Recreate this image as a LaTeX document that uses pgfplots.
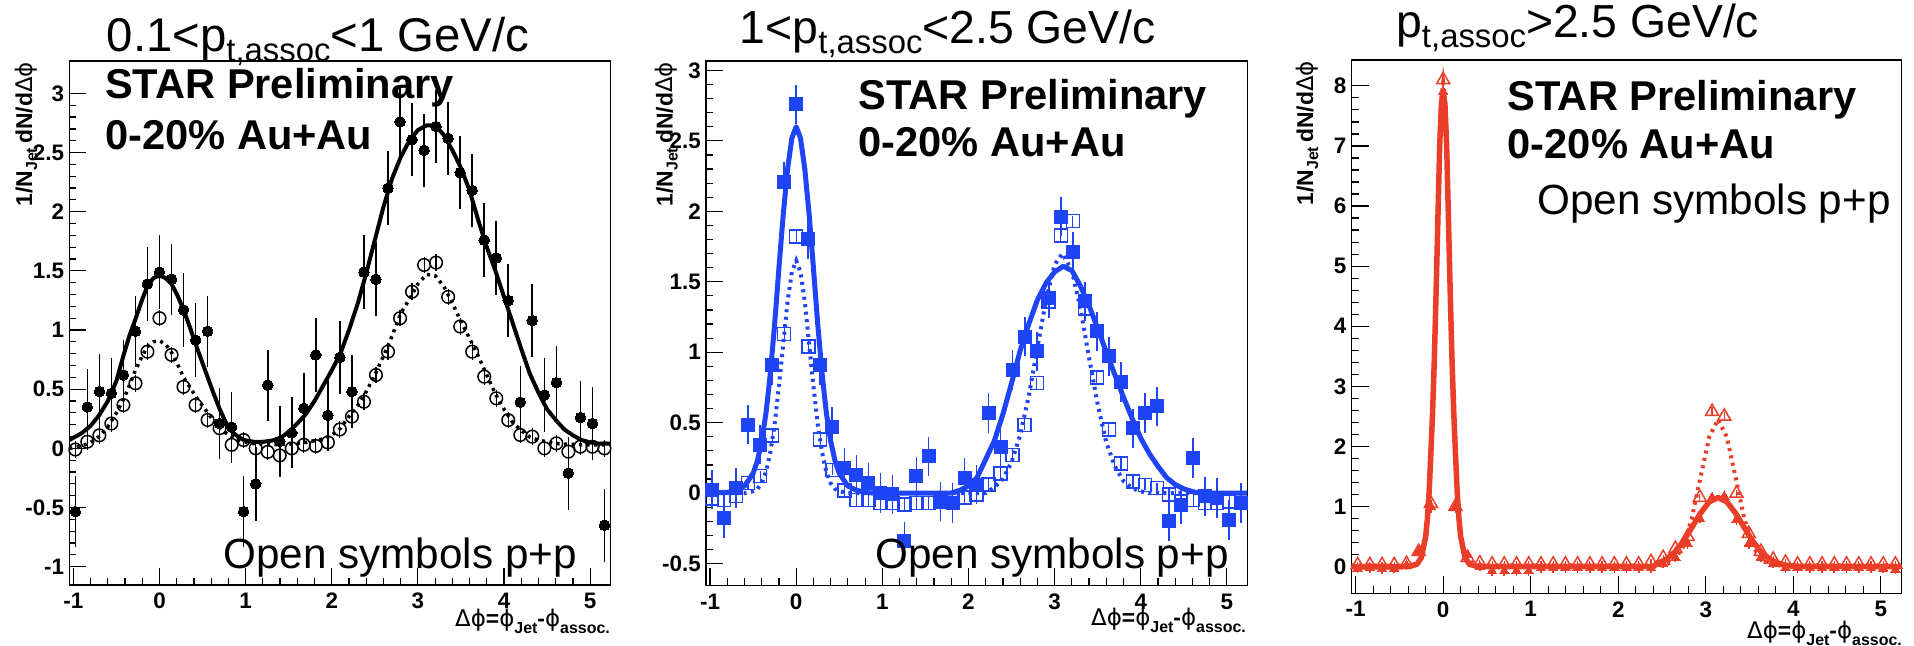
\documentclass[border=0pt]{standalone}
\usepackage{fontspec}
\setmainfont{Liberation Sans}
\newfontfamily\greekfont{DejaVu Sans}
\usepackage{pgfplots}
\usepackage{pgfplotstable}
\pgfplotsset{compat=1.18}

\definecolor{rootblue}{RGB}{30,68,245}
\definecolor{rootred}{RGB}{234,62,40}

% Azimuthal correlation per trigger jet, 45 bins over [-pi/3, 5pi/3]
% columns: bin centre, Au+Au value, Au+Au error, p+p value, p+p error
\pgfplotstableread{
x      aa     aae   pp     ppe
-0.977 -0.535 0.30 -0.01   0.07
-0.838  0.35  0.32  0.056  0.07
-0.698  0.48  0.32  0.11   0.07
-0.559  0.465 0.30  0.21   0.07
-0.419  0.62  0.30  0.366  0.07
-0.279  0.99  0.30  0.55   0.07
-0.140  1.39  0.31  0.817  0.07
 0.000  1.49  0.31  1.10   0.07
 0.140  1.43  0.30  0.79   0.07
 0.279  1.17  0.31  0.52   0.07
 0.419  0.915 0.31  0.366  0.07
 0.559  0.99  0.30  0.24   0.07
 0.698  0.21  0.30  0.17   0.07
 0.838  0.18  0.30  0.03   0.07
 0.977 -0.535 0.30  0.07   0.07
 1.117 -0.30  0.31  0.0    0.07
 1.257  0.535 0.30 -0.03   0.07
 1.396  0.06  0.30 -0.06   0.07
 1.536  0.13  0.30  0.0    0.07
 1.676  0.34  0.30  0.03   0.07
 1.815  0.79  0.31  0.02   0.07
 1.955  0.28  0.30  0.05   0.07
 2.094  0.77  0.31  0.16   0.07
 2.234  0.48  0.31  0.268  0.07
 2.374  1.49  0.31  0.394  0.07
 2.513  1.43  0.31  0.62   0.07
 2.653  2.20  0.31  0.817  0.07
 2.793  2.76  0.31  1.10   0.07
 2.932  2.61  0.31  1.324  0.07
 3.072  2.52  0.31  1.55   0.07
 3.211  2.72  0.31  1.57   0.07
 3.351  2.62  0.31  1.28   0.07
 3.491  2.33  0.31  1.03   0.07
 3.630  2.18  0.31  0.817  0.07
 3.770  1.76  0.31  0.606  0.07
 3.910  1.61  0.31  0.423  0.07
 4.049  1.25  0.31  0.239  0.07
 4.189  0.39  0.31  0.113  0.07
 4.328  1.08  0.31  0.099  0.07
 4.468  0.45  0.31  0.0    0.07
 4.608  0.555 0.31  0.042  0.07
 4.747 -0.21  0.31 -0.028  0.07
 4.887  0.26  0.31  0.014  0.07
 5.027  0.21  0.31  0.014  0.07
 5.166 -0.65  0.31  0.0    0.07
}\tabLow

\pgfplotstableread{
x      aa     aae   pp     ppe
-0.977  0.024 0.14 -0.04   0.04
-0.838 -0.18  0.14 -0.05   0.04
-0.698  0.035 0.14 -0.02   0.04
-0.559  0.485 0.14  0.07   0.04
-0.419  0.343 0.14  0.12   0.04
-0.279  0.91  0.14  0.41   0.04
-0.140  2.21  0.14  1.13   0.04
 0.000  2.76  0.14  1.82   0.04
 0.140  1.80  0.14  1.04   0.04
 0.279  0.91  0.14  0.38   0.04
 0.419  0.47  0.14  0.165  0.04
 0.559  0.18  0.14  0.02   0.04
 0.698  0.13  0.14 -0.05   0.04
 0.838  0.07  0.14 -0.05   0.04
 0.977  0.0   0.14 -0.07   0.04
 1.117 -0.01  0.14 -0.07   0.04
 1.257 -0.343 0.14 -0.08   0.04
 1.396  0.118 0.14 -0.07   0.04
 1.536  0.26  0.14 -0.07   0.04
 1.676 -0.06  0.14 -0.06   0.04
 1.815 -0.07  0.14 -0.05   0.04
 1.955  0.106 0.14 -0.03   0.04
 2.094  0.059 0.14 -0.01   0.04
 2.234  0.567 0.14  0.06   0.04
 2.374  0.33  0.14  0.14   0.04
 2.513  0.875 0.14  0.27   0.04
 2.653  1.11  0.14  0.485  0.04
 2.793  1.005 0.14  0.78   0.04
 2.932  1.383 0.14  1.36   0.04
 3.072  1.962 0.14  1.83   0.04
 3.211  1.714 0.14  1.93   0.04
 3.351  1.36  0.14  1.31   0.04
 3.491  1.147 0.14  0.82   0.04
 3.630  0.97  0.14  0.45   0.04
 3.770  0.79  0.14  0.21   0.04
 3.910  0.46  0.14  0.083  0.04
 4.049  0.567 0.14  0.059  0.04
 4.189  0.615 0.14  0.035  0.04
 4.328 -0.2   0.14 -0.01   0.04
 4.468 -0.083 0.14 -0.06   0.04
 4.608  0.248 0.14 -0.05   0.04
 4.747 -0.024 0.14 -0.07   0.04
 4.887 -0.035 0.14 -0.07   0.04
 5.027 -0.19  0.14 -0.06   0.04
 5.166 -0.07  0.14 -0.07   0.04
}\tabMid

\pgfplotstableread{
x      aa     aae   pp     ppe
-0.977 -0.03  0.08  0.03   0.05
-0.838 -0.02  0.08  0.03   0.05
-0.698 -0.04  0.08  0.03   0.05
-0.559 -0.03  0.08  0.03   0.05
-0.419  0.02  0.08  0.05   0.05
-0.279  0.25  0.08  0.25   0.05
-0.140  1.00  0.10  1.05   0.06
 0.000  7.90  0.15  8.10   0.10
 0.140  1.00  0.10  1.00   0.06
 0.279  0.20  0.08  0.15   0.05
 0.419  0.00  0.08  0.06   0.05
 0.559 -0.07  0.08  0.04   0.05
 0.698 -0.07  0.08  0.04   0.05
 0.838 -0.07  0.08  0.04   0.05
 0.977 -0.07  0.08  0.04   0.05
 1.117 -0.02  0.08  0.04   0.05
 1.257 -0.02  0.08  0.04   0.05
 1.396 -0.02  0.08  0.04   0.05
 1.536 -0.02  0.08  0.04   0.05
 1.676 -0.02  0.08  0.04   0.05
 1.815 -0.02  0.08  0.04   0.05
 1.955 -0.02  0.08  0.04   0.05
 2.094 -0.02  0.08  0.04   0.05
 2.234 -0.02  0.08  0.04   0.05
 2.374 -0.02  0.08  0.08   0.05
 2.513  0.05  0.08  0.15   0.05
 2.653  0.15  0.08  0.30   0.05
 2.793  0.38  0.08  0.50   0.05
 2.932  0.80  0.08  1.15   0.06
 3.072  1.15  0.08  2.58   0.08
 3.211  1.17  0.08  2.50   0.08
 3.351  0.78  0.08  1.22   0.06
 3.491  0.38  0.08  0.55   0.05
 3.630  0.15  0.08  0.25   0.05
 3.770  0.05  0.08  0.12   0.05
 3.910 -0.02  0.08  0.07   0.05
 4.049 -0.02  0.08  0.04   0.05
 4.189 -0.02  0.08  0.04   0.05
 4.328 -0.02  0.08  0.04   0.05
 4.468 -0.02  0.08  0.04   0.05
 4.608 -0.02  0.08  0.04   0.05
 4.747 -0.02  0.08  0.04   0.05
 4.887 -0.02  0.08  0.04   0.05
 5.027 -0.03  0.08  0.04   0.05
 5.166 -0.05  0.08  0.04   0.05
}\tabHigh

\pgfplotsset{
  rootframe/.style={
    scale only axis,
    anchor=south west,
    xmin=-1.047, xmax=5.236,
    axis line style={line width=1.4bp},
    tick align=inside,
    tick pos=left,
    major tick length=17bp,
    minor tick length=7bp,
    tick style={line width=1.2bp, black},
    xtick={-1,0,...,5},
    minor x tick num=4,
    tick label style={font=\fontsize{22.5}{22.5}\selectfont\bfseries},
    /pgf/number format/assume math mode=true,
    xticklabel style={inner sep=0pt, anchor=north, yshift=-8bp},
    yticklabel style={inner sep=0pt, anchor=east, xshift=-5bp},
  },
  aamark/.style={only marks, line width=0pt,
    error bars/y dir=both, error bars/y explicit, error bars/error mark=none,
    error bars/error bar style={line width=1.6bp}},
  ppmark/.style={only marks, line width=1.5bp,
    error bars/y dir=both, error bars/y explicit, error bars/error mark=none,
    error bars/error bar style={line width=1.2bp}},
  fitline/.style={no marks, line width=4bp, line join=round},
  fitdots/.style={no marks, line width=3.5bp, dash pattern=on 3bp off 4.5bp},
}

\newcommand{\dphi}{{\greekfont\mdseries Δϕ}}
\newcommand{\phiv}{{\greekfont\mdseries ϕ}}
\newcommand{\ylab}{\fontsize{23}{23}\selectfont\bfseries 1/N\raisebox{-5bp}{\fontsize{16}{16}\selectfont Jet}\,dN/d\dphi}
\newcommand{\xlab}{\fontsize{23}{23}\selectfont\bfseries \dphi=\phiv\raisebox{-7bp}{\fontsize{16}{16}\selectfont Jet}-\phiv\raisebox{-7bp}{\fontsize{16}{16}\selectfont assoc.}}
\newcommand{\sub}[1]{\raisebox{-10bp}{\fontsize{33}{33}\selectfont #1}}

\begin{document}
\begin{tikzpicture}
\useasboundingbox (0,0) rectangle (1914bp,646bp);

% ---------------- 0.1 < pt,assoc < 1 GeV/c ----------------
\begin{axis}[rootframe, at={(69.3bp,61bp)}, width=541.2bp, height=524bp,
  ymin=-1.155, ymax=3.274, ytick={-1,-0.5,...,3}, minor y tick num=4]
\addplot[black, fitline] coordinates {
(-1.047,0.07) (-0.9,0.13) (-0.8,0.19) (-0.7,0.28) (-0.6,0.40) (-0.5,0.57)
(-0.42,0.78) (-0.35,0.95) (-0.28,1.09) (-0.2,1.26) (-0.14,1.37) (-0.07,1.44)
(0,1.46) (0.07,1.44) (0.14,1.39) (0.21,1.29) (0.28,1.17) (0.35,1.03)
(0.42,0.88) (0.49,0.74) (0.56,0.60) (0.63,0.46) (0.7,0.33) (0.77,0.22)
(0.84,0.14) (0.91,0.10) (0.98,0.07) (1.1,0.055) (1.2,0.055) (1.3,0.065)
(1.4,0.085) (1.5,0.14) (1.6,0.21) (1.7,0.29) (1.8,0.40) (1.9,0.53)
(2.0,0.66) (2.1,0.80) (2.2,1.00) (2.3,1.22) (2.4,1.48) (2.5,1.76)
(2.6,2.04) (2.7,2.28) (2.8,2.46) (2.9,2.60) (3.0,2.69) (3.1,2.73)
(3.2,2.73) (3.3,2.65) (3.4,2.52) (3.5,2.37) (3.6,2.18) (3.7,1.93)
(3.8,1.70) (3.9,1.50) (4.0,1.28) (4.1,1.06) (4.2,0.84) (4.3,0.63)
(4.4,0.47) (4.5,0.33) (4.6,0.24) (4.7,0.16) (4.8,0.11) (4.9,0.07)
(5.0,0.05) (5.1,0.04) (5.236,0.04)};
\addplot[black, fitdots] coordinates {
(-1.047,0.0) (-0.9,0.02) (-0.8,0.05) (-0.7,0.10) (-0.6,0.18) (-0.5,0.30)
(-0.42,0.41) (-0.35,0.53) (-0.28,0.66) (-0.2,0.78) (-0.14,0.86) (-0.07,0.90)
(0,0.91) (0.07,0.88) (0.14,0.81) (0.21,0.71) (0.28,0.60) (0.35,0.52)
(0.42,0.44) (0.49,0.37) (0.56,0.30) (0.63,0.23) (0.7,0.18) (0.77,0.13)
(0.84,0.10) (0.95,0.06) (1.1,0.04) (1.3,0.03) (1.5,0.035) (1.7,0.05)
(1.9,0.08) (2.0,0.11) (2.1,0.17) (2.2,0.27) (2.3,0.36) (2.4,0.48)
(2.5,0.62) (2.6,0.78) (2.7,0.95) (2.8,1.14) (2.9,1.26) (3.0,1.39)
(3.1,1.47) (3.2,1.46) (3.3,1.37) (3.4,1.23) (3.5,1.07) (3.6,0.93)
(3.7,0.78) (3.8,0.62) (3.9,0.46) (4.0,0.33) (4.1,0.22) (4.2,0.15)
(4.3,0.095) (4.4,0.07) (4.6,0.04) (4.9,0.03) (5.236,0.03)};
\addplot[black, ppmark, mark=o, mark size=6.3bp]
  table[x=x, y=pp, y error=ppe] {\tabLow};
\addplot[black, aamark, mark=*, mark size=5.3bp]
  table[x=x, y=aa, y error=aae] {\tabLow};
\end{axis}

% ---------------- 1 < pt,assoc < 2.5 GeV/c ----------------
\begin{axis}[rootframe, at={(706bp,60.5bp)}, width=541.2bp, height=524.5bp,
  ymin=-0.656, ymax=3.067, ytick={-0.5,0,...,3}, minor y tick num=4]
\addplot[rootblue, fitline, line width=5bp] coordinates {
(-1.047,0) (-0.8,0.005) (-0.7,0.02) (-0.6,0.05) (-0.5,0.14) (-0.45,0.23)
(-0.4,0.37) (-0.35,0.57) (-0.3,0.85) (-0.25,1.20) (-0.2,1.60) (-0.15,1.98)
(-0.1,2.30) (-0.05,2.52) (0,2.60) (0.05,2.52) (0.1,2.30) (0.15,1.98)
(0.2,1.60) (0.25,1.20) (0.3,0.85) (0.35,0.57) (0.4,0.37) (0.45,0.23)
(0.5,0.14) (0.6,0.05) (0.7,0.02) (0.8,0.005) (0.9,0) (1.8,0)
(1.9,0.02) (2.0,0.05) (2.1,0.11) (2.2,0.24) (2.3,0.37) (2.4,0.56)
(2.5,0.78) (2.6,1.01) (2.7,1.20) (2.8,1.37) (2.9,1.49) (3.0,1.57)
(3.1,1.61) (3.2,1.58) (3.3,1.47) (3.4,1.33) (3.5,1.17) (3.6,1.00)
(3.7,0.84) (3.8,0.68) (3.9,0.53) (4.0,0.39) (4.1,0.28) (4.2,0.19)
(4.3,0.11) (4.4,0.06) (4.5,0.03) (4.6,0.01) (4.7,0) (5.236,0)};
\addplot[rootblue, fitdots, line width=4bp] coordinates {
(-1.047,0) (-0.6,0) (-0.5,0.013) (-0.45,0.03) (-0.4,0.07) (-0.35,0.15)
(-0.3,0.29) (-0.25,0.49) (-0.2,0.76) (-0.15,1.06) (-0.1,1.36) (-0.05,1.57)
(0,1.65) (0.05,1.57) (0.1,1.36) (0.15,1.06) (0.2,0.76) (0.25,0.49)
(0.3,0.29) (0.35,0.15) (0.4,0.07) (0.45,0.03) (0.5,0.013) (0.6,0)
(2.2,0) (2.3,0.04) (2.4,0.10) (2.5,0.22) (2.6,0.41) (2.7,0.69)
(2.8,1.03) (2.9,1.37) (3.0,1.62) (3.09,1.70) (3.2,1.58) (3.3,1.31)
(3.4,0.96) (3.5,0.63) (3.6,0.36) (3.7,0.19) (3.8,0.085) (3.9,0.034)
(4.0,0.012) (4.1,0) (5.236,0)};
\addplot[rootblue, ppmark, mark=square, mark size=6.5bp]
  table[x=x, y=pp, y error=ppe] {\tabMid};
\addplot[rootblue, aamark, mark=square*, mark size=6.5bp]
  table[x=x, y=aa, y error=aae] {\tabMid};
\end{axis}

% ---------------- pt,assoc > 2.5 GeV/c ----------------
\begin{axis}[rootframe, at={(1351.5bp,52.7bp)}, width=550bp, height=533.3bp,
  ymin=-0.443, ymax=8.43, ytick={0,1,...,8}, minor y tick num=4]
\addplot[rootred, fitline, line width=5.5bp] coordinates {
(-1.047,0) (-0.4,0) (-0.3,0.04) (-0.25,0.15) (-0.2,0.5) (-0.18,0.8)
(-0.16,1.25) (-0.14,1.9) (-0.12,2.6) (-0.1,3.5) (-0.08,4.6) (-0.06,5.8)
(-0.04,7.0) (-0.02,7.7) (0,7.9) (0.02,7.7) (0.04,7.0) (0.06,5.8)
(0.08,4.6) (0.1,3.5) (0.12,2.6) (0.14,1.9) (0.16,1.25) (0.18,0.8)
(0.2,0.5) (0.25,0.15) (0.3,0.04) (0.4,0) (2.4,0) (2.44,0.05)
(2.54,0.116) (2.64,0.233) (2.74,0.415) (2.84,0.65) (2.94,0.89) (3.04,1.08)
(3.14,1.15) (3.24,1.08) (3.34,0.89) (3.44,0.65) (3.54,0.415) (3.64,0.233)
(3.74,0.116) (3.84,0.05) (3.94,0.019) (4.1,0) (5.236,0)};
\addplot[rootred, fitdots, line width=4bp] coordinates {
(-1.047,0.02) (-0.4,0.02) (-0.3,0.05) (-0.25,0.16) (-0.2,0.5) (-0.18,0.82)
(-0.16,1.28) (-0.14,1.95) (-0.12,2.65) (-0.1,3.56) (-0.08,4.68) (-0.06,5.9)
(-0.04,7.1) (-0.02,7.8) (0,8.05) (0.02,7.8) (0.04,7.1) (0.06,5.9)
(0.08,4.68) (0.1,3.56) (0.12,2.65) (0.14,1.95) (0.16,1.28) (0.18,0.82)
(0.2,0.5) (0.25,0.16) (0.3,0.05) (0.4,0.02) (2.5,0.02) (2.54,0.03)
(2.64,0.11) (2.74,0.33) (2.84,0.80) (2.94,1.49) (3.04,2.16) (3.14,2.45)
(3.24,2.16) (3.34,1.49) (3.44,0.80) (3.54,0.33) (3.64,0.11) (3.74,0.03)
(3.84,0.02) (5.236,0.02)};
\addplot[rootred, ppmark, mark=triangle, mark size=7.5bp]
  table[x=x, y=pp, y error=ppe] {\tabHigh};
\addplot[rootred, aamark, mark=triangle*, mark size=5.5bp]
  table[x=x, y=aa, y error=aae] {\tabHigh};
\end{axis}

% ---------------- titles and annotations ----------------
\node[anchor=base west, inner sep=0pt] at (106.5bp,594.4bp)
  {\fontsize{47.5}{50}\selectfont 0.1<p\sub{t,assoc}<1 GeV/c};
\node[anchor=base west, inner sep=0pt] at (739.6bp,602.7bp)
  {\fontsize{46.5}{50}\selectfont 1<p\sub{t,assoc}<2.5 GeV/c};
\node[anchor=base west, inner sep=0pt] at (1396bp,608.9bp)
  {\fontsize{46.5}{50}\selectfont p\sub{t,assoc}>2.5 GeV/c};

\node[anchor=base west, inner sep=0pt] at (105bp,547bp)
  {\fontsize{41.8}{45}\selectfont\bfseries STAR Preliminary};
\node[anchor=base west, inner sep=0pt] at (105bp,496bp)
  {\fontsize{41.8}{45}\selectfont\bfseries 0-20\% Au+Au};
\node[anchor=base west, inner sep=0pt] at (858.3bp,536bp)
  {\fontsize{41.8}{45}\selectfont\bfseries STAR Preliminary};
\node[anchor=base west, inner sep=0pt] at (858.3bp,489bp)
  {\fontsize{41.8}{45}\selectfont\bfseries 0-20\% Au+Au};
\node[anchor=base west, inner sep=0pt] at (1507.6bp,535.4bp)
  {\fontsize{41.8}{45}\selectfont\bfseries STAR Preliminary};
\node[anchor=base west, inner sep=0pt] at (1507.6bp,487.2bp)
  {\fontsize{41.8}{45}\selectfont\bfseries 0-20\% Au+Au};

\node[anchor=base west, inner sep=0pt] at (223.3bp,77.7bp)
  {\fontsize{42.4}{45}\selectfont Open symbols p+p};
\node[anchor=base west, inner sep=0pt] at (875bp,77.7bp)
  {\fontsize{42.4}{45}\selectfont Open symbols p+p};
\node[anchor=base west, inner sep=0pt] at (1537bp,431.5bp)
  {\fontsize{42.4}{45}\selectfont Open symbols p+p};

% axis titles
\node[rotate=90, anchor=base east, inner sep=0pt] at (32bp,584bp) {\ylab};
\node[rotate=90, anchor=base east, inner sep=0pt] at (672.5bp,584bp) {\ylab};
\node[rotate=90, anchor=base east, inner sep=0pt] at (1313bp,585bp) {\ylab};
\node[anchor=base east, inner sep=0pt] at (610bp,20bp) {\xlab};
\node[anchor=base east, inner sep=0pt] at (1246bp,21bp) {\xlab};
\node[anchor=base east, inner sep=0pt] at (1902bp,8bp) {\xlab};
\end{tikzpicture}
\end{document}
